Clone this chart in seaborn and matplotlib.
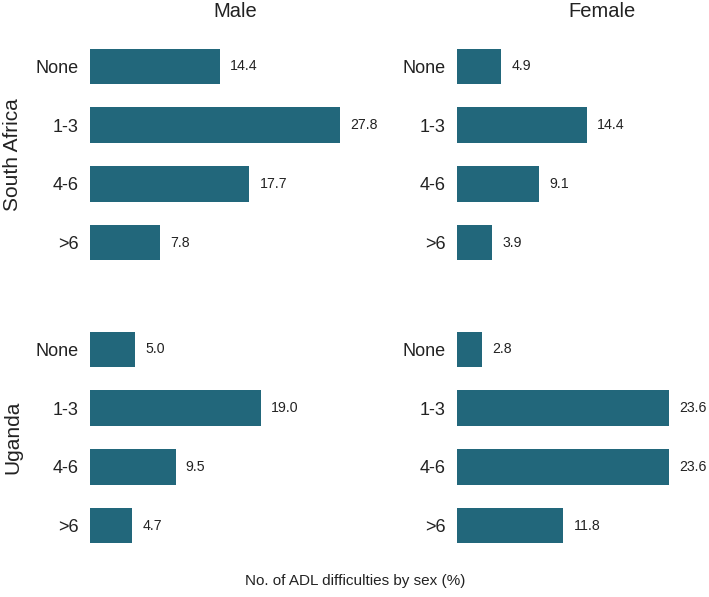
import matplotlib
matplotlib.use("Agg")
import matplotlib.pyplot as plt
import seaborn as sns
import pandas as pd

categories = ["None", "1-3", "4-6", ">6"]
regions = ["South Africa", "Uganda"]
sexes = ["Male", "Female"]
sa_male = [14.4, 27.8, 17.7, 7.8]
sa_female = [4.9, 14.4, 9.1, 3.9]
ug_male = [5.0, 19.0, 9.5, 4.7]
ug_female = [2.8, 23.6, 23.6, 11.8]

values = {("South Africa", "Male"): sa_male, ("South Africa", "Female"): sa_female,
          ("Uganda", "Male"): ug_male, ("Uganda", "Female"): ug_female}
rows = []
for (r, s), vals in values.items():
    for c, v in zip(categories, vals):
        rows.append({"region": r, "sex": s, "category": c, "value": v})
df = pd.DataFrame(rows)

sns.set_theme(style="white")
plt.rcParams["font.family"] = ["Liberation Sans", "DejaVu Sans"]

W, H = 709, 597
fig = plt.figure(figsize=(W / 100, H / 100), dpi=100)
BAR = "#22677B"
col_left = {"Male": 90, "Female": 457}
row_top = {"South Africa": 31, "Uganda": 314}
pw, ph = 290, 247
xmax = pw / 9.0

for r in regions:
    for s in sexes:
        ax = fig.add_axes([col_left[s] / W, (H - row_top[r] - ph) / H, pw / W, ph / H])
        sub = df[(df.region == r) & (df.sex == s)]
        sns.barplot(data=sub, x="value", y="category", order=categories, color=BAR,
                    width=0.6, orient="h", ax=ax, linewidth=0, saturation=1)
        ax.set_xlim(0, xmax)
        ax.set_ylim(3.6, -0.6)
        for i, v in enumerate(sub.set_index("category").loc[categories, "value"]):
            ax.text(v + 1.15, i, f"{v:.1f}", va="center", ha="left", fontsize=10.2,
                    color="#222222", clip_on=False)
        ax.set_xlabel("")
        ax.set_ylabel("")
        ax.set_xticks([])
        ax.tick_params(axis="y", length=0, pad=8, labelsize=13, labelcolor="#222222")
        for sp in ax.spines.values():
            sp.set_visible(False)
        ax.patch.set_alpha(0)
        if r == "South Africa":
            ax.set_title(s, fontsize=14.5, color="#222222", pad=10)
        if s == "Male":
            fig.text(13 / W, (H - row_top[r] - ph / 2) / H, r, rotation=90,
                     ha="center", va="center", fontsize=15, color="#222222")

fig.text(355 / W, (H - 581) / H, "No. of ADL difficulties by sex (%)", ha="center",
         va="center", fontsize=11, color="#222222")

fig.savefig("out.png", dpi=100)
